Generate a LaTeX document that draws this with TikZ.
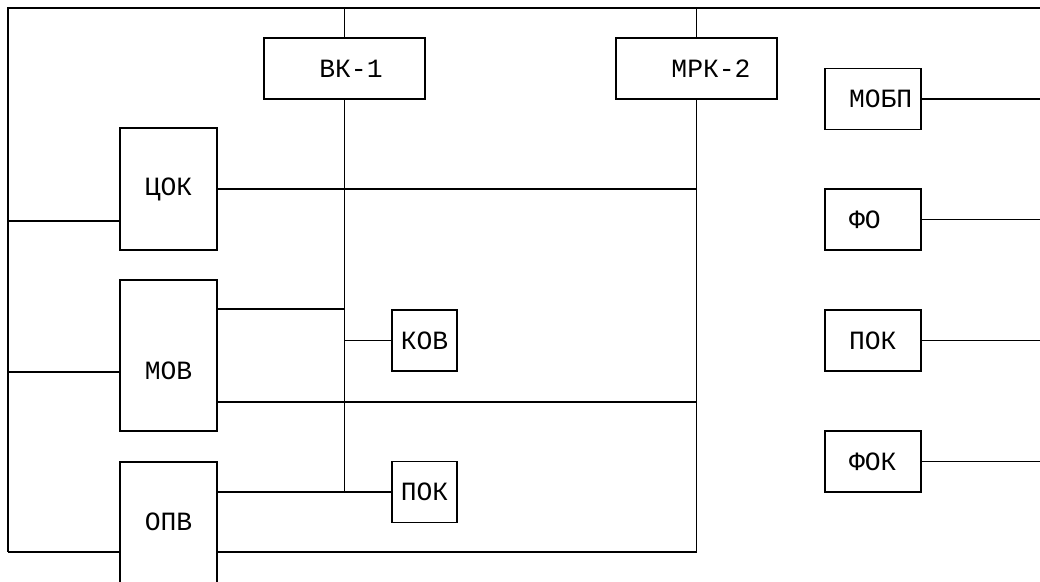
\documentclass[tikz,border=0pt]{standalone}
\usepackage{fontspec}
\setmonofont{Liberation Mono}
\usetikzlibrary{positioning, calc}
\tikzset{
  every picture/.style={line width=1.1pt},
  txt/.style={font=\ttfamily\fontsize{15}{18}\selectfont, inner sep=0pt},
  blk/.style={draw, minimum width=#1, minimum height=1.22cm, inner sep=0pt, font=\ttfamily\fontsize{15}{18}\selectfont},
  blk/.default=1.94cm,
}

\begin{document}
\begin{tikzpicture}
  \clip (0,0) rectangle (20.8,-11.64);
  % outer bus
  \coordinate (tl) at (0.16,-0.16);
  \coordinate (tr) at (20.8,-0.16);
  \coordinate (bl) at (0.16,-11.04);
  \draw (tr) -- (tl) -- (bl);
  % top units on the bus
  \node[blk=3.22cm] (bk) at (6.89,-1.37) {};
  \node[txt] (bkt) at ([xshift=0.13cm]bk.center) {ВК-1};
  \node[blk=3.22cm] (mrk) at (13.93,-1.37) {};
  \node[txt] (mrkt) at ([xshift=0.29cm]mrk.center) {МРК-2};
  \draw (bk.north |- tl) -- (bk.north);
  \draw (mrk.north |- tl) -- (mrk.north);
  % left column
  \node[blk, minimum height=2.44cm] (cok) at (3.37,-3.78) {ЦОК};
  \node[blk, minimum height=3.02cm] (mov) at (3.37,-7.11) {};
  \node[txt] (movt) at ([yshift=-0.31cm]mov.center) {МОВ};
  \node[blk, minimum height=3.6cm] (opv) at (3.37,-11.04) {};
  \node[txt] (opvt) at ([yshift=-1.22cm]opv.north) {ОПВ};
  \node[blk=1.30cm] (kov) at (8.49,-6.81) {КОВ};
  \node[blk=1.30cm] (pokm) at (8.49,-9.84) {ПОК};
  % vertical lines from ВК-1 and МРК-2
  \draw (bk.south) -- (bk.south |- pokm.west);
  \draw (mrk.south) -- (mrk.south |- bl);
  % links
  \draw (cok.east) -- (cok.east -| mrk.south);
  \draw ($(cok.south west)+(0,0.6)$) coordinate (c1) -- (c1 -| tl);
  \draw ($(mov.north east)+(0,-0.6)$) coordinate (m1) -- (m1 -| bk.south);
  \draw ($(mov.south east)+(0,0.6)$) coordinate (m2) -- (m2 -| mrk.south);
  \draw ($(mov.south west)+(0,1.2)$) coordinate (m3) -- (m3 -| tl);
  \draw (kov.west) -- (kov.west -| bk.south);
  \draw (pokm.west) -- (pokm.west -| opv.east);
  \draw (bl) -- (opv.west);
  \draw (opv.east) -- (opv.east -| mrk.south);
  % right column
  \foreach \t/\n/\y in {МОБП/mobp/-1.98, ФО/fo/-4.39, ПОК/pokr/-6.81, ФОК/fok/-9.23} {
    \node[blk=1.92cm] (\n) at (17.46,\y) {};
    \node[txt, right=0.48cm of \n.west, anchor=west] (\n-t) {\t};
    \draw (\n.east) -- (\n.east -| tr);
  }
\end{tikzpicture}
\end{document}
